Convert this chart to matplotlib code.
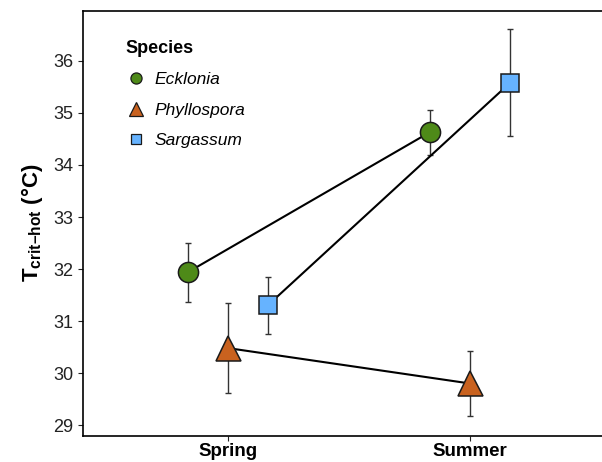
import numpy as np
import matplotlib.pyplot as plt
from matplotlib.lines import Line2D

plt.rcParams['font.family'] = ['Liberation Sans', 'DejaVu Sans']
plt.rcParams['mathtext.fontset'] = 'custom'
plt.rcParams['mathtext.rm'] = 'Liberation Sans'
plt.rcParams['mathtext.bf'] = 'Liberation Sans:bold'
plt.rcParams['mathtext.it'] = 'Liberation Sans:italic'

seasons = ["Spring", "Summer"]
species = ["Ecklonia", "Phyllospora", "Sargassum"]

# mean Tcrit-hot, and error bar low / high
ecklonia = [31.94, 34.63]
ecklonia_lo = [31.37, 34.19]
ecklonia_hi = [32.50, 35.06]

phyllospora = [30.48, 29.80]
phyllospora_lo = [29.62, 29.17]
phyllospora_hi = [31.35, 30.42]

sargassum = [31.31, 35.58]
sargassum_lo = [30.75, 34.56]
sargassum_hi = [31.85, 36.62]

colors = ["#4E8A18", "#C9621F", "#66B3FF"]
markers = ["o", "^", "s"]
msizes = [14.5, 18, 13]
dodge = [-0.166, 0.0, 0.166]

fig = plt.figure(figsize=(6.02, 4.62), dpi=100)
ax = fig.add_axes([83/602, 1 - 435.5/462, (615 - 83)/602, (435.5 - 10.5)/462])

xs = np.arange(1, len(seasons) + 1)
means = [ecklonia, phyllospora, sargassum]
los = [ecklonia_lo, phyllospora_lo, sargassum_lo]
his = [ecklonia_hi, phyllospora_hi, sargassum_hi]

for i in range(3):
    x = xs + dodge[i]
    m = np.array(means[i])
    yerr = [m - np.array(los[i]), np.array(his[i]) - m]
    ax.errorbar(x, m, yerr=yerr, fmt="none", ecolor="#333333", elinewidth=1,
                capsize=2.2, capthick=1, zorder=1)
    ax.plot(x, m, color="black", lw=1.5, zorder=2)
    ax.plot(x, m, linestyle="none", marker=markers[i], markersize=msizes[i],
            markerfacecolor=colors[i], markeredgecolor="#1a1a1a", markeredgewidth=1.1, zorder=3)

ax.set_xlim(0.4, 2.6)
ax.set_ylim(28.8, 36.97)
ax.set_xticks(xs)
ax.set_xticklabels(seasons, fontsize=13.5, fontweight="bold")
ax.set_yticks(np.arange(29, 37))
ax.tick_params(axis="y", labelsize=13, colors="#222222", length=3.5)
ax.tick_params(axis="x", length=3.5, pad=2, colors="#222222")
for lab in ax.get_xticklabels():
    lab.set_color("black")
for s in ax.spines.values():
    s.set_linewidth(1.2)
ax.spines["right"].set_visible(False)
ax.set_ylabel(r"$\mathbf{T}_{\mathbf{crit–hot}}\,\,$(°C)", fontsize=16, fontweight="bold", labelpad=6)

handles = [Line2D([], [], linestyle="none", marker=markers[i], markersize=[8, 10, 7][i],
                  markerfacecolor=colors[i], markeredgecolor="#1a1a1a", markeredgewidth=0.9)
           for i in range(3)]
leg = ax.legend(handles, species, title="Species", loc="upper left",
                bbox_to_anchor=(0.05, 0.968), frameon=False, prop={"style": "italic", "size": 12.5},
                title_fontproperties={"weight": "bold", "size": 13}, labelspacing=0.88,
                handletextpad=0.5, handlelength=1.2)
leg._legend_box.align = "left"

fig.savefig("out.png", dpi=100)
